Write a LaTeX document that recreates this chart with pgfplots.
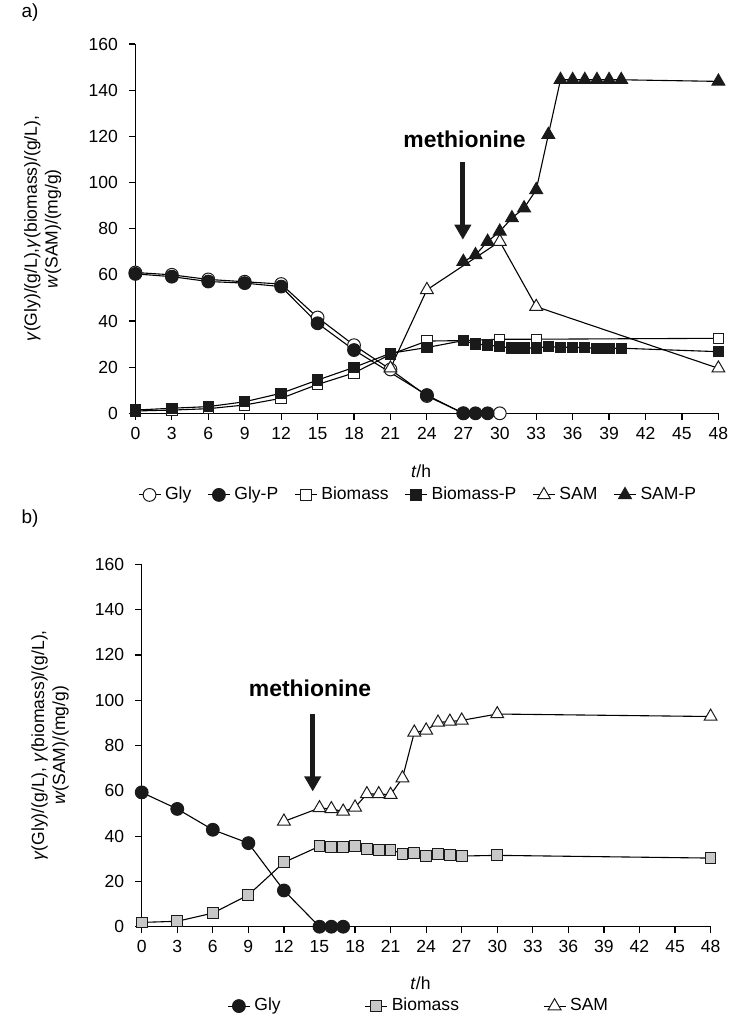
\documentclass[border=0pt]{standalone}
\usepackage{fontspec}
\setmainfont{Liberation Sans}
\usepackage{pgfplots}
\pgfplotsset{compat=1.18}
\usetikzlibrary{arrows.meta}

\definecolor{mk}{HTML}{1A1A1A}
\definecolor{boxgray}{HTML}{C8C8C8}

\pgfplotsset{
  kin/.style={
    scale only axis,
    xmin=0, xmax=48, ymin=0, ymax=160,
    xtick={0,3,...,48}, ytick={0,20,...,160},
    axis x line*=bottom, axis y line*=left,
    axis line style={line width=0.6bp, -},
    tick align=outside,
    major tick length=3.3bp,
    tick style={line width=0.6bp, black},
    /pgf/number format/assume math mode=true,
    tick label style={font=\fontsize{8.8}{10}\selectfont},
    yticklabel style={xshift=-2bp},
    label style={font=\fontsize{8.8}{10.5}\selectfont},
    legend style={draw=none, fill=none, font=\fontsize{8.8}{10}\selectfont, legend columns=-1},
    legend image code/.code={\draw[mark repeat=2,mark phase=2] plot coordinates {(0bp,0bp) (5.5bp,0bp) (11bp,0bp)};},
    clip=false,
    every axis plot/.append style={line width=0.55bp, black},
  },
  gopen/.style={mark=*, mark size=3.2bp, mark options={fill=white, draw=mk, line width=0.5bp}},
  gfull/.style={mark=*, mark size=3.2bp, mark options={fill=mk, draw=mk, line width=0.5bp}},
  bopen/.style={mark=square*, mark size=2.6bp, mark options={fill=white, draw=mk, line width=0.5bp}},
  bfull/.style={mark=square*, mark size=2.6bp, mark options={fill=mk, draw=mk, line width=0.5bp}},
  bgray/.style={mark=square*, mark size=2.7bp, mark options={fill=boxgray, draw=mk, line width=0.5bp}},
  sopen/.style={mark=triangle*, mark size=3.7bp, mark options={fill=white, draw=mk, line width=0.5bp}},
  sfull/.style={mark=triangle*, mark size=3.7bp, mark options={fill=mk, draw=mk, line width=0.5bp}},
}

\begin{document}
\begin{tikzpicture}
\path[use as bounding box] (0,0) rectangle (378bp,-515bp);

\node[font=\fontsize{9.5}{11}\selectfont] at (15bp,-6.5bp) {a)};
\node[font=\fontsize{9.5}{11}\selectfont] at (15bp,-259.5bp) {b)};

% ---- a) parallel fermentations ----
\begin{axis}[kin,
  at={(67.7bp,-206.65bp)}, anchor=south west,
  width=291.5bp, height=184.65bp,
  xlabel={\textit{t}/h},
  xlabel style={at={(axis description cs:0.49,-0.158)}, anchor=center},
  ylabel={\textit{γ}(Gly)/(g/L),\textit{γ}(biomass)/(g/L),\\\textit{w}(SAM)/(mg/g)},
  ylabel style={align=center, at={(axis description cs:-0.159,0.5)}, anchor=center},
  legend style={at={(0.4865,-0.221)}, anchor=center,
    /tikz/every even column/.append style={column sep=6bp}},
]
\addplot[gopen] coordinates {
  (0,61) (3,60) (6,58) (9,57) (12,56) (15,41.5) (18,29.5) (21,19) (24,7.5) (27,0) (30,0)
};
\addplot[gfull] coordinates {
  (0,60.4) (3,59.2) (6,57.1) (9,56.4) (12,54.9) (15,39) (18,27.4) (24,7.9) (27,0) (28,0) (29,0)
};
\addplot[bopen] coordinates {
  (0,1.0) (3,1.4) (6,2.0) (9,3.6) (12,6.5) (15,12.5) (18,17.5) (21,25.5) (24,31.3) (27,31.5)
  (30,32.1) (33,32.1) (48,32.5)
};
\addplot[bfull] coordinates {
  (0,1.4) (3,2.2) (6,2.9) (9,5.0) (12,8.7) (15,14.4) (18,19.9) (21,26.0) (24,28.5) (27,31.5)
  (28,30.0) (29,29.6) (30,28.9) (31,28.3) (32,28.3) (33,28.3) (34,28.9) (35,28.6) (36,28.6)
  (37,28.4) (38,28.2) (39,28.2) (40,28.2) (48,26.7)
};
\addplot[sopen] coordinates {
  (21,19.5) (24,53.5) (30,74.4) (33,46.2) (48,19.5)
};
\addplot[sfull] coordinates {
  (27,65.7) (28,68.6) (29,74.4) (30,78.8) (31,84.6) (32,88.9) (33,96.8) (34,120.7)
  (35,144.5) (36,144.5) (37,144.5) (38,144.5) (39,144.5) (40,144.5) (48,143.8)
};
\legend{Gly,Gly-P,Biomass,Biomass-P,SAM,SAM-P}
\draw[line width=2.6bp, mk, -{Triangle[width=8bp,length=7.5bp]}] (axis cs:26.96,109) -- (axis cs:26.96,75.2);
\node[font=\fontsize{11.5}{12}\selectfont\bfseries] at (axis cs:27.1,118.5) {methionine};
\end{axis}

% ---- b) ----
\begin{axis}[kin,
  at={(70.85bp,-463.35bp)}, anchor=south west,
  width=284.45bp, height=181.2bp,
  xlabel={\textit{t}/h},
  xlabel style={at={(axis description cs:0.49,-0.156)}, anchor=center},
  ylabel={\textit{γ}(Gly)/(g/L), \textit{γ}(biomass)/(g/L),\\\textit{w}(SAM)/(mg/g)},
  ylabel style={align=center, at={(axis description cs:-0.161,0.5)}, anchor=center},
  legend style={at={(0.4887,-0.219)}, anchor=center,
    /tikz/every even column/.append style={column sep=40bp}},
]
\addplot[gfull] coordinates {
  (0,59.3) (3,52.0) (6,42.8) (9,36.9) (12,16.0) (15,0) (16,0) (17,0)
};
\addplot[bgray] coordinates {
  (0,1.9) (3,2.4) (6,6.0) (9,14.0) (12,28.4) (15,35.5) (16,35.2) (17,35.2) (18,35.5)
  (19,34.3) (20,33.7) (21,34.0) (22,32.2) (23,32.6) (24,31.3) (25,32.0) (26,31.7) (27,31.2)
  (30,31.5) (48,30.3)
};
\addplot[sopen] coordinates {
  (12,46.5) (15,52.4) (16,52.0) (17,50.9) (18,52.7) (19,58.6) (20,58.6) (21,58.3) (22,65.6)
  (23,85.8) (24,86.7) (25,90.2) (26,90.6) (27,91.1) (30,93.9) (48,92.8)
};
\legend{Gly,Biomass,SAM}
\draw[line width=2.6bp, mk, -{Triangle[width=8bp,length=7.5bp]}] (axis cs:14.43,94) -- (axis cs:14.43,59.7);
\node[font=\fontsize{11.5}{12}\selectfont\bfseries] at (axis cs:14.2,105.3) {methionine};
\end{axis}
\end{tikzpicture}
\end{document}
